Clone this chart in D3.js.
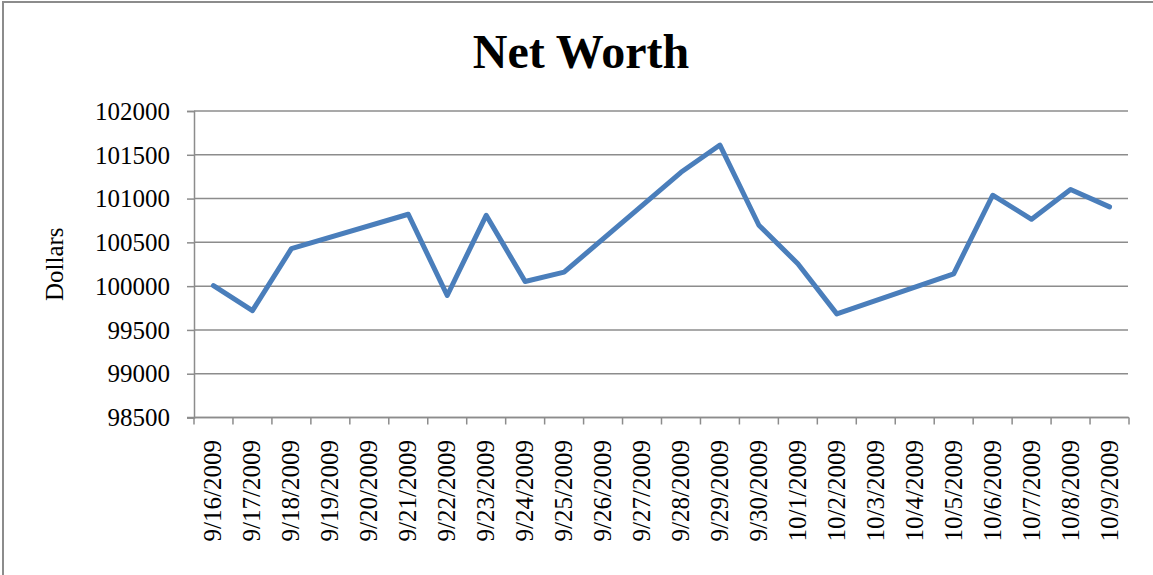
<!DOCTYPE html>
<html>
<head>
<meta charset="utf-8">
<script src="https://cdn.jsdelivr.net/npm/d3@7"></script>
<style>
  html, body { margin: 0; padding: 0; background: #fff; }
  svg { display: block; }
</style>
</head>
<body>
<svg id="chart" width="1153" height="575"></svg>
<script>
// Data
const dates = ["9/16/2009","9/17/2009","9/18/2009","9/19/2009","9/20/2009","9/21/2009",
  "9/22/2009","9/23/2009","9/24/2009","9/25/2009","9/26/2009","9/27/2009",
  "9/28/2009","9/29/2009","9/30/2009","10/1/2009","10/2/2009","10/3/2009",
  "10/4/2009","10/5/2009","10/6/2009","10/7/2009","10/8/2009","10/9/2009"];
// null = no record (weekend); the line connects neighbouring records
const netWorth = [100005, 99720, 100428, null, null, 100821,
  99893, 100809, 100053, 100160, null, null,
  101300, 101611, 100695, 100256, 99683, null,
  null, 100141, 101038, 100763, 101103, 100905];
const yTicks = [98500, 99000, 99500, 100000, 100500, 101000, 101500, 102000];
const titleText = "Net Worth";
const yTitle = "Dollars";

(function () {
const svg = d3.select("#chart");
const font = "'Liberation Serif', 'Times New Roman', serif";
const pLeft = 194, pRight = 1129, pTop = 111, pBottom = 417.5;

// outer chart border (only top and left fall inside the frame)
svg.append("rect").attr("x", 3).attr("y", 2).attr("width", 1300).attr("height", 700)
  .attr("fill", "none").attr("stroke", "#8c8c8c").attr("stroke-width", 2);

const x = d3.scaleBand().domain(dates).range([pLeft, pRight]).padding(0);
const y = d3.scaleLinear().domain([98500, 102000]).range([pBottom, pTop]);

// gridlines
svg.append("g").selectAll("line").data(yTicks).join("line")
  .attr("x1", pLeft).attr("x2", pRight - 1)
  .attr("y1", d => y(d)).attr("y2", d => y(d))
  .attr("stroke", "#8c8c8c").attr("stroke-width", 1.5);

// y axis
const yAxis = svg.append("g").attr("transform", `translate(${pLeft},0)`)
  .call(d3.axisLeft(y).tickValues(yTicks).tickSize(7).tickPadding(17).tickFormat(d3.format("d")));
yAxis.select(".domain").attr("stroke", "#8c8c8c").attr("stroke-width", 1.5);
yAxis.selectAll(".tick line").attr("stroke", "#8c8c8c").attr("stroke-width", 1.5);
yAxis.selectAll(".tick text").attr("font-family", font).attr("font-size", 25).attr("fill", "#000")
  .attr("dy", "0.33em");

// x axis (ticks at category boundaries)
const xg = svg.append("g");
xg.append("line").attr("x1", pLeft - 7).attr("x2", pRight).attr("y1", pBottom).attr("y2", pBottom)
  .attr("stroke", "#8c8c8c").attr("stroke-width", 1.5);
const bounds = dates.map(d => x(d)).concat([x(dates[dates.length - 1]) + x.bandwidth()]);
xg.selectAll("line.tk").data(bounds).join("line").attr("class", "tk")
  .attr("x1", d => d).attr("x2", d => d).attr("y1", pBottom).attr("y2", pBottom + 7)
  .attr("stroke", "#8c8c8c").attr("stroke-width", 1.5);
xg.selectAll("text").data(dates).join("text")
  .attr("transform", d => `translate(${x(d) + x.bandwidth() / 2 + 8},440) rotate(-90)`)
  .attr("text-anchor", "end")
  .attr("font-family", font).attr("font-size", 25).attr("fill", "#000")
  .text(d => d);

// line
const pts = dates.map((d, i) => ({ d, v: netWorth[i] })).filter(p => p.v !== null);
const line = d3.line().x(p => x(p.d) + x.bandwidth() / 2).y(p => y(p.v));
svg.append("path").datum(pts).attr("d", line)
  .attr("fill", "none").attr("stroke", "#4a7ebb").attr("stroke-width", 5)
  .attr("stroke-linejoin", "round").attr("stroke-linecap", "round");

// title
svg.append("text").attr("x", 581).attr("y", 68).attr("text-anchor", "middle")
  .attr("font-family", font).attr("font-weight", "bold").attr("font-size", 48)
  .text(titleText);

// y title
svg.append("text").attr("transform", `translate(63,${(pTop + pBottom) / 2}) rotate(-90)`)
  .attr("text-anchor", "middle").attr("font-family", font).attr("font-size", 25)
  .text(yTitle);
})();
</script>
</body>
</html>
